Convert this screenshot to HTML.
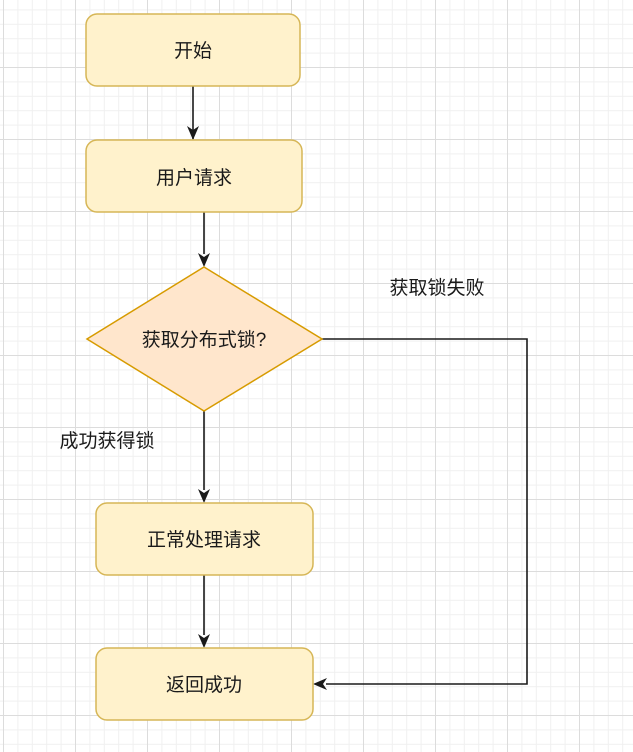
<!DOCTYPE html>
<html><head><meta charset="utf-8"><style>
html,body{margin:0;padding:0;background:#fff}
</style></head><body>
<svg width="633" height="752" xmlns="http://www.w3.org/2000/svg" style="display:block">
<defs>
<pattern id="mi" width="14.4" height="14.4" patternUnits="userSpaceOnUse" x="3" y="-5">
<path d="M0 0.5H14.4M0.5 0V14.4" stroke="#f0f0f0" stroke-width="1" fill="none"/></pattern>
<pattern id="ma" width="72" height="72" patternUnits="userSpaceOnUse" x="3" y="-5">
<path d="M0 0.5H72M0.5 0V72" stroke="#dcdcdc" stroke-width="1" fill="none"/></pattern>
<marker id="ar" viewBox="0 0 10 10" refX="9" refY="5" markerWidth="7" markerHeight="7" orient="auto" markerUnits="userSpaceOnUse"><path d="M0 0L10 5L0 10L3 5Z" fill="#1a1a1a"/></marker>
</defs>
<rect width="633" height="752" fill="url(#mi)"/>
<rect width="633" height="752" fill="url(#ma)"/>
<g stroke="#1a1a1a" stroke-width="1.6" fill="none">
<path d="M193 86V139" marker-end="url(#ar)" style="marker-end:none"/>
<polygon points="187,126 193,140 199,126 193,130" fill="#1a1a1a" stroke="none"/>
<path d="M204 212V254"/>
<polygon points="198,253 204,267 210,253 204,257" fill="#1a1a1a" stroke="none"/>
<path d="M204 411V490"/>
<polygon points="198,489 204,503 210,489 204,493" fill="#1a1a1a" stroke="none"/>
<path d="M204 575V635"/>
<polygon points="198,634 204,648 210,634 204,638" fill="#1a1a1a" stroke="none"/>
<path d="M322 339H527V684H326"/>
<polygon points="327,678 313,684 327,690 323,684" fill="#1a1a1a" stroke="none"/>
</g>
<g fill="#fff2cc" stroke="#d6b656" stroke-width="1.5">
<rect x="86" y="14" width="214" height="72" rx="11"/>
<rect x="86" y="140" width="216" height="72" rx="11"/>
<rect x="96" y="503" width="217" height="72" rx="11"/>
<rect x="96" y="648" width="217" height="72" rx="11"/>
</g>
<polygon points="204,267 322,339 204,411 87,339" fill="#ffe6cc" stroke="#d79b00" stroke-width="1.5"/>
<g font-family="Liberation Sans, Noto Sans CJK SC, sans-serif" font-size="19" fill="#1a1a1a" text-anchor="middle">
<text x="193" y="57">开始</text>
<text x="194" y="184">用户请求</text>
<text x="204" y="346">获取分布式锁?</text>
<text x="204" y="546">正常处理请求</text>
<text x="204" y="691">返回成功</text>
<text x="437" y="294">获取锁失败</text>
<text x="107" y="447">成功获得锁</text>
</g>
</svg>
</body></html>
